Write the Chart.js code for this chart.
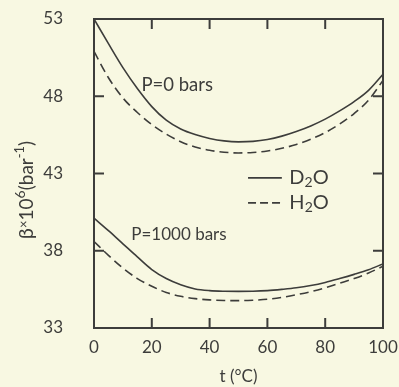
<!DOCTYPE html>
<html><head><meta charset="utf-8">
<script src="https://cdn.jsdelivr.net/npm/chart.js@4.4.1/dist/chart.umd.min.js"></script>
<style>html,body{margin:0;padding:0;background:#f8f8e2;}#wrap{width:399px;height:387px;position:relative}</style>
</head><body><div id="wrap"><canvas id="c" width="399" height="387"></canvas></div>
<script>
// ---- data ----
const temps      = [0,5,10,15,20,25,30,35,40,45,50,55,60,65,70,75,80,85,90,95,100];
const d2o_p0     = [53.0,51.4,49.85,48.5,47.33,46.45,45.88,45.52,45.27,45.11,45.05,45.08,45.2,45.42,45.72,46.08,46.52,47.05,47.65,48.38,49.42];
const h2o_p0     = [50.9,49.2,47.89,46.95,46.17,45.55,45.06,44.72,44.5,44.38,44.33,44.36,44.46,44.63,44.88,45.22,45.65,46.2,46.88,47.75,49.02];
const d2o_p1000  = [40.11,39.3,38.45,37.6,36.78,36.2,35.8,35.53,35.42,35.38,35.37,35.38,35.42,35.5,35.6,35.75,35.95,36.2,36.47,36.77,37.15];
const h2o_p1000  = [38.6,37.7,36.88,36.2,35.7,35.3,35.05,34.9,34.82,34.78,34.77,34.8,34.86,34.98,35.15,35.35,35.6,35.9,36.2,36.56,37.0];
const xTickVals  = [0,20,40,60,80,100];
const yTickVals  = [33,38,43,48,53];
const seriesNames = ['D2O','H2O'];
const pressureLabels = ['P=0 bars','P=1000 bars'];

const INK = '#3d3d3b';
const FONT = 'Lato, "DejaVu Sans", sans-serif';
const dash = [9,5];

function pts(vals){ return temps.map((t,i)=>({x:t,y:vals[i]})); }
function ds(label, vals, dashed){
  return {label, data: pts(vals), borderColor: INK, borderWidth: 1.6, borderDash: dashed?dash:[],
    pointRadius:0, fill:false, cubicInterpolationMode:'monotone', tension:0.4};
}

function drawRich(ctx, parts, x, y, align){
  let w = 0;
  parts.forEach(p=>{ ctx.font = p[1]+'px '+FONT; w += ctx.measureText(p[0]).width; });
  let cx = align==='center' ? x - w/2 : x;
  parts.forEach(p=>{ ctx.font = p[1]+'px '+FONT; ctx.fillText(p[0], cx, y + p[2]); cx += ctx.measureText(p[0]).width; });
}

const frame = {
  id:'frame',
  afterDraw(chart){
    const {ctx, chartArea:a, scales:{x,y}} = chart;
    ctx.save();
    ctx.strokeStyle = INK; ctx.lineWidth = 2;
    ctx.strokeRect(a.left, a.top, a.right-a.left, a.bottom-a.top);
    const tl = 10;
    ctx.beginPath();
    xTickVals.slice(1,-1).forEach(v=>{
      const px = x.getPixelForValue(v);
      ctx.moveTo(px,a.bottom); ctx.lineTo(px,a.bottom-tl);
      ctx.moveTo(px,a.top); ctx.lineTo(px,a.top+tl);
    });
    yTickVals.slice(1,-1).forEach(v=>{
      const py = y.getPixelForValue(v);
      ctx.moveTo(a.left,py); ctx.lineTo(a.left+tl,py);
      ctx.moveTo(a.right,py); ctx.lineTo(a.right-tl,py);
    });
    ctx.stroke();

    ctx.fillStyle = INK; ctx.textBaseline = 'middle'; ctx.textAlign = 'left';
    ctx.font = '18.5px '+FONT;
    ctx.fillText(pressureLabels[0], x.getPixelForValue(16.4), y.getPixelForValue(48.75));
    ctx.font = '17px '+FONT;
    ctx.fillText(pressureLabels[1], x.getPixelForValue(12.9), y.getPixelForValue(39.03));

    const lx0 = x.getPixelForValue(53.3), lx1 = x.getPixelForValue(65.0), tx = x.getPixelForValue(67.6);
    const ly = [y.getPixelForValue(42.72), y.getPixelForValue(41.1)];
    ctx.lineWidth = 1.6;
    [0,1].forEach(i=>{
      ctx.setLineDash(i? [8,4] : []);
      ctx.beginPath(); ctx.moveTo(lx0, ly[i]); ctx.lineTo(lx1, ly[i]); ctx.stroke();
      ctx.setLineDash([]);
      const nm = seriesNames[i];
      drawRich(ctx, [[nm[0],20,0],[nm[1],14,5],[nm[2],20,0]], tx, ly[i], 'left');
    });

    ctx.translate(27, 190);
    ctx.rotate(-Math.PI/2);
    ctx.textBaseline = 'middle';
    drawRich(ctx, [['β',20,0],['×',13,-3],['10',19,0],['6',14,-7],['(bar',19,0],['-1',13,-7],[')',19,0]], 0, 0, 'center');
    ctx.restore();
  }
};

function noPad(s){ s.paddingTop=0; s.paddingBottom=0; s.paddingLeft=0; s.paddingRight=0; }

new Chart(document.getElementById('c'), {
  type:'line',
  data:{ datasets:[
    ds(seriesNames[0]+' P0', d2o_p0, false),
    ds(seriesNames[1]+' P0', h2o_p0, true),
    ds(seriesNames[0]+' P1000', d2o_p1000, false),
    ds(seriesNames[1]+' P1000', h2o_p1000, true)
  ]},
  options:{
    responsive:false, animation:false,
    layout:{padding:{left:0,right:16,top:19,bottom:0}},
    plugins:{legend:{display:false}, tooltip:{enabled:false}},
    scales:{
      x:{ type:'linear', min:0, max:100,
        afterBuildTicks(s){ s.ticks = xTickVals.map(v=>({value:v})); },
        afterFit(s){ s.height = 59; noPad(s); },
        grid:{display:false, drawTicks:false}, border:{display:false},
        ticks:{color:INK, padding:9, font:{family:FONT,size:17}, maxRotation:0, autoSkip:false},
        title:{display:true, text:'t (°C)', color:INK, font:{family:FONT,size:17}, padding:{top:0,bottom:0}}
      },
      y:{ min:33, max:53,
        afterBuildTicks(s){ s.ticks = yTickVals.map(v=>({value:v})); },
        afterFit(s){ s.width = 94; noPad(s); },
        grid:{display:false, drawTicks:false}, border:{display:false},
        ticks:{color:INK, padding:31, font:{family:FONT,size:17}}
      }
    }
  },
  plugins:[frame]
});
</script></body></html>
